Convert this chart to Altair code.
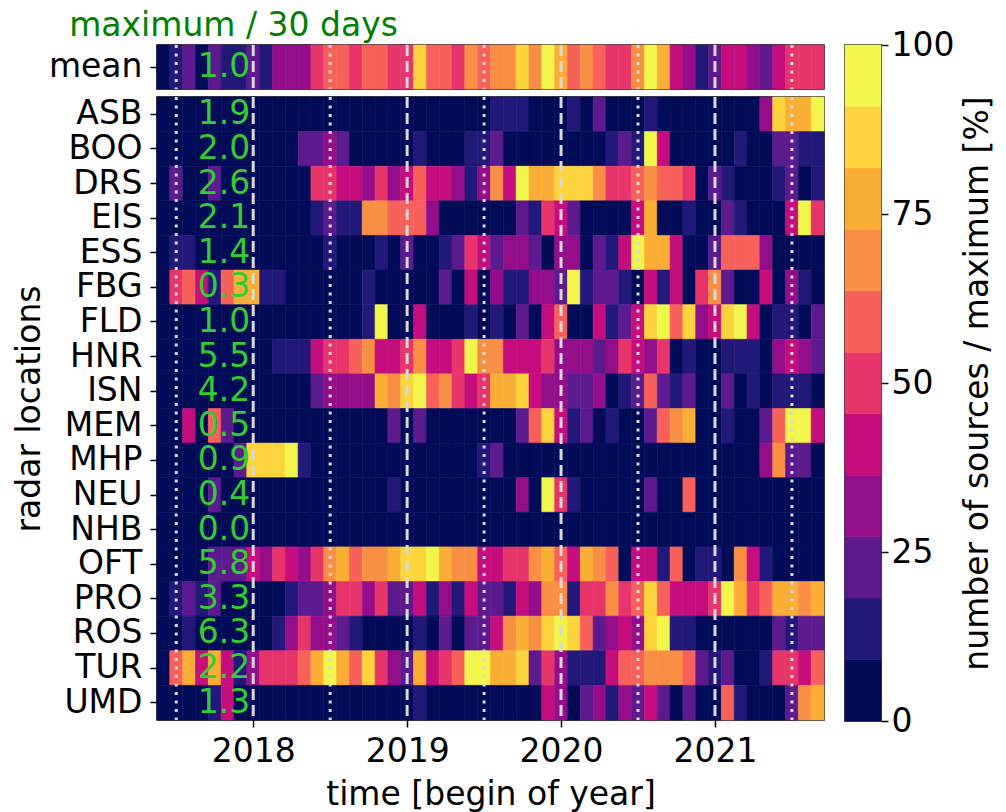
import altair as alt
import pandas as pd

# ---------------- data ----------------
radars = ["ASB", "BOO", "DRS", "EIS", "ESS", "FBG", "FLD", "HNR", "ISN",
          "MEM", "MHP", "NEU", "NHB", "OFT", "PRO", "ROS", "TUR", "UMD"]
maxima = [1.9, 2.0, 2.6, 2.1, 1.4, 0.3, 1.0, 5.5, 4.2,
          0.5, 0.9, 0.4, 0.0, 5.8, 3.3, 6.3, 2.2, 1.3]
mean_maximum = 1.0

first_month = "2017-06"
last_month = "2021-09"

# number of sources / maximum [%] per 30-day (monthly) cell
mean = [5, 14, 23, 5, 23, 14, 14, 23, 14, 32, 32, 32, 50, 59, 59, 50, 59, 59, 50, 50,
        86, 59, 59, 50, 68, 59, 68, 68, 86, 68, 95, 77, 59, 68, 59, 50, 50, 68, 95, 77,
        41, 32, 14, 23, 41, 41, 32, 23, 41, 50, 50, 50]
ASB = [5, 5, 5, 5, 5, 5, 5, 5, 5, 5, 5, 5, 5, 5, 5, 5, 5, 5, 5, 5,
       5, 5, 5, 5, 5, 5, 14, 14, 14, 5, 5, 5, 14, 5, 23, 5, 5, 5, 14, 5,
       5, 5, 5, 5, 5, 5, 5, 32, 86, 77, 77, 95]
BOO = [5, 5, 5, 5, 5, 5, 5, 5, 5, 5, 5, 23, 23, 32, 23, 5, 5, 5, 5, 5,
       14, 5, 5, 5, 14, 14, 23, 5, 5, 5, 5, 5, 5, 5, 5, 14, 23, 14, 95, 41,
       5, 5, 5, 5, 5, 14, 5, 5, 23, 23, 14, 14]
DRS = [5, 23, 5, 5, 23, 5, 5, 5, 5, 5, 5, 5, 50, 50, 41, 41, 32, 50, 32, 41,
       59, 41, 41, 32, 14, 32, 68, 41, 95, 77, 77, 86, 86, 86, 68, 50, 50, 59, 68, 59,
       59, 50, 5, 23, 14, 5, 5, 5, 14, 23, 5, 14]
EIS = [5, 5, 5, 5, 5, 5, 5, 5, 5, 5, 5, 5, 14, 23, 14, 14, 68, 68, 59, 59,
       59, 32, 5, 5, 5, 5, 5, 5, 23, 14, 50, 41, 23, 5, 5, 5, 5, 41, 77, 5,
       5, 14, 5, 5, 23, 14, 5, 5, 5, 41, 95, 50]
ESS = [5, 14, 14, 5, 5, 5, 5, 5, 5, 5, 5, 5, 5, 14, 5, 5, 5, 14, 5, 23,
       5, 5, 14, 23, 50, 41, 23, 32, 32, 23, 5, 32, 32, 5, 23, 14, 41, 95, 77, 77,
       41, 5, 5, 23, 59, 59, 59, 32, 5, 5, 5, 5]
FBG = [5, 50, 59, 41, 14, 59, 77, 77, 14, 14, 5, 5, 5, 5, 5, 5, 14, 5, 5, 5,
       5, 5, 23, 5, 41, 5, 32, 14, 14, 32, 32, 23, 95, 14, 23, 23, 14, 5, 41, 14,
       41, 5, 50, 68, 23, 5, 5, 41, 5, 32, 14, 5]
FLD = [5, 5, 5, 5, 5, 5, 5, 5, 5, 5, 5, 5, 5, 5, 5, 5, 14, 95, 5, 5,
       41, 5, 5, 5, 14, 5, 14, 5, 23, 5, 41, 59, 5, 5, 41, 14, 23, 41, 86, 95,
       59, 86, 32, 41, 86, 95, 41, 5, 14, 14, 5, 23]
HNR = [5, 5, 5, 5, 5, 5, 5, 5, 5, 14, 14, 14, 41, 50, 50, 59, 68, 41, 41, 50,
       68, 41, 41, 50, 95, 68, 68, 41, 41, 41, 50, 32, 32, 32, 23, 32, 50, 41, 32, 50,
       5, 14, 5, 5, 14, 14, 14, 5, 32, 41, 32, 23]
ISN = [5, 5, 5, 5, 5, 5, 5, 5, 5, 5, 5, 5, 23, 32, 32, 32, 32, 77, 68, 86,
       95, 59, 68, 50, 41, 50, 77, 77, 86, 41, 32, 32, 23, 23, 32, 5, 14, 23, 59, 23,
       14, 23, 5, 5, 23, 5, 14, 5, 14, 14, 14, 5]
MEM = [5, 5, 41, 5, 59, 23, 5, 5, 5, 5, 5, 5, 5, 5, 5, 5, 5, 5, 23, 5,
       23, 5, 5, 5, 5, 5, 5, 5, 23, 59, 86, 41, 14, 23, 5, 14, 5, 5, 23, 59,
       68, 77, 5, 5, 14, 5, 5, 23, 59, 95, 95, 41]
MHP = [5, 5, 5, 5, 5, 5, 23, 86, 86, 86, 95, 14, 5, 5, 5, 5, 5, 5, 5, 5,
       5, 5, 5, 5, 5, 14, 23, 5, 5, 5, 5, 5, 5, 5, 5, 5, 5, 5, 5, 5,
       5, 5, 5, 5, 5, 5, 5, 32, 68, 23, 23, 5]
NEU = [5, 5, 5, 5, 23, 5, 5, 5, 5, 5, 5, 5, 5, 5, 5, 5, 5, 5, 14, 5,
       5, 5, 5, 5, 5, 5, 5, 5, 32, 5, 95, 50, 14, 5, 5, 5, 5, 5, 23, 5,
       5, 59, 5, 5, 5, 5, 5, 5, 5, 5, 5, 5]
NHB = [5, 5, 5, 5, 5, 5, 5, 5, 5, 5, 5, 5, 5, 5, 5, 5, 5, 5, 5, 5,
       5, 5, 5, 5, 5, 5, 5, 5, 5, 5, 5, 5, 5, 5, 5, 5, 5, 5, 5, 5,
       5, 5, 5, 5, 5, 5, 5, 5, 5, 5, 5, 5]
OFT = [5, 5, 5, 5, 23, 23, 23, 41, 32, 50, 41, 32, 50, 68, 77, 59, 68, 68, 77, 86,
       86, 95, 77, 68, 68, 41, 41, 50, 50, 68, 77, 59, 41, 77, 68, 59, 5, 41, 41, 14,
       59, 5, 14, 14, 5, 68, 41, 14, 5, 5, 5, 5]
PRO = [5, 14, 23, 14, 23, 5, 5, 5, 5, 5, 14, 23, 23, 32, 50, 50, 32, 50, 23, 23,
       41, 14, 32, 14, 41, 23, 23, 14, 41, 32, 68, 68, 14, 50, 50, 68, 50, 59, 86, 59,
       41, 41, 41, 50, 95, 77, 50, 59, 77, 77, 68, 77]
ROS = [5, 5, 14, 5, 5, 5, 5, 5, 5, 14, 32, 50, 32, 32, 23, 14, 5, 5, 5, 5,
       14, 5, 23, 5, 23, 23, 41, 68, 77, 68, 86, 95, 86, 59, 23, 32, 41, 32, 86, 95,
       14, 14, 5, 5, 5, 5, 5, 5, 23, 14, 23, 23]
TUR = [5, 59, 77, 41, 77, 41, 14, 32, 50, 50, 50, 59, 77, 95, 77, 59, 86, 50, 32, 23,
       77, 41, 50, 59, 95, 95, 77, 77, 86, 23, 50, 32, 14, 14, 14, 41, 59, 59, 68, 68,
       68, 59, 23, 14, 23, 5, 5, 14, 50, 50, 41, 59]
UMD = [5, 5, 5, 5, 14, 41, 5, 5, 5, 5, 5, 5, 5, 5, 5, 5, 5, 5, 5, 5,
       14, 5, 5, 5, 5, 5, 5, 5, 5, 5, 41, 32, 5, 23, 32, 14, 32, 23, 41, 23,
       5, 23, 5, 5, 59, 14, 5, 5, 5, 23, 68, 77]

series = {"ASB": ASB, "BOO": BOO, "DRS": DRS, "EIS": EIS, "ESS": ESS, "FBG": FBG,
          "FLD": FLD, "HNR": HNR, "ISN": ISN, "MEM": MEM, "MHP": MHP, "NEU": NEU,
          "NHB": NHB, "OFT": OFT, "PRO": PRO, "ROS": ROS, "TUR": TUR, "UMD": UMD}

year_lines = [2018, 2019, 2020, 2021]
midyear_lines = [2017.5, 2018.5, 2019.5, 2020.5, 2021.5]
cbar_ticks = [0, 25, 50, 75, 100]
colors = ["#020b57", "#221879", "#5c1a8e", "#940d8a", "#c60d7d", "#e7356b",
          "#f8615a", "#f98e45", "#fbae36", "#fdd43c", "#f3f64a"]

# ---------------- tables ----------------
months = pd.period_range(first_month, last_month, freq="M")
centers = [p.year + (p.month - 1) / 12 for p in months]
half = 1 / 24

rows = []
for r in radars:
    for c, v in zip(centers, series[r]):
        rows.append({"radar": r, "x0": c - half, "x1": c + half, "value": v})
df = pd.DataFrame(rows)
mean_df = pd.DataFrame({"row": "mean", "x0": [c - half for c in centers],
                        "x1": [c + half for c in centers], "value": mean})
max_df = pd.DataFrame({"radar": radars, "max": maxima})
mean_max_df = pd.DataFrame({"row": ["mean"], "max": [mean_maximum]})
yl_df = pd.DataFrame({"x": year_lines})
ml_df = pd.DataFrame({"x": midyear_lines})

n = len(colors)
cb_df = pd.DataFrame({"lo": [100 * k / n for k in range(n)],
                      "hi": [100 * (k + 1) / n for k in range(n)]})
cb_df["mid"] = (cb_df["lo"] + cb_df["hi"]) / 2

# ---------------- styling ----------------
FONT = "DejaVu Sans"
FS = 33
GREEN_TXT = "#33cc33"
LINE_COL = "#d9d9d9"

xscale = alt.Scale(domain=[centers[0] - half, centers[-1] + half], nice=False, zero=False)
cscale = alt.Scale(type="threshold", domain=[100 * k / n for k in range(1, n)], range=colors)

ax_main = alt.Axis(values=year_lines, format="d", title="time [begin of year]",
                   labelPadding=8, titlePadding=10)
ax_y = alt.Axis(title="radar locations", labelPadding=8, titlePadding=17)
y_main = alt.Y("radar:N", sort=radars, scale=alt.Scale(paddingInner=0, paddingOuter=0), axis=ax_y)
y_mean = alt.Y("row:N", scale=alt.Scale(paddingInner=0, paddingOuter=0),
               axis=alt.Axis(title=None, labelPadding=8))


def build(data, ydef, txt_data, axis_x, height):
    heat = alt.Chart(data).mark_rect(strokeWidth=0.6).encode(
        x=alt.X("x0:Q", scale=xscale, axis=axis_x),
        x2="x1:Q",
        y=ydef,
        color=alt.Color("value:Q", scale=cscale, legend=None),
        stroke=alt.Stroke("value:Q", scale=cscale, legend=None),
    )
    dashed = alt.Chart(yl_df).mark_rule(color=LINE_COL, strokeWidth=3, strokeDash=[11, 5]).encode(
        x=alt.X("x:Q", scale=xscale, axis=axis_x))
    dotted = alt.Chart(ml_df).mark_rule(color=LINE_COL, strokeWidth=3, strokeDash=[3, 5.5]).encode(
        x=alt.X("x:Q", scale=xscale, axis=axis_x))
    txt = alt.Chart(txt_data).mark_text(color=GREEN_TXT, fontSize=FS, font=FONT).encode(
        x=alt.datum(2017.81, scale=xscale, axis=axis_x),
        y=ydef,
        text=alt.Text("max:Q", format=".1f"),
    )
    return alt.layer(heat, dashed, dotted, txt).properties(width=667, height=height)


mean_chart = build(mean_df, y_mean, mean_max_df, None, 44)
main_chart = build(df, y_main, max_df, ax_main, 623)

colorbar = alt.Chart(cb_df).mark_rect(strokeWidth=0.6).encode(
    x=alt.value(0),
    x2=alt.value("width"),
    y=alt.Y("lo:Q", scale=alt.Scale(domain=[0, 100], nice=False, zero=False),
            axis=alt.Axis(orient="right", values=cbar_ticks, title="number of sources / maximum [%]",
                          titleAngle=270, labelPadding=3, titlePadding=41)),
    y2="hi:Q",
    color=alt.Color("mid:Q", scale=cscale, legend=None),
    stroke=alt.Stroke("mid:Q", scale=cscale, legend=None),
).properties(width=36, height=676)

title = alt.TitleParams("maximum / 30 days", color="green", fontSize=FS, font=FONT,
                        fontWeight="normal", anchor="start", dx=56, offset=-15)

left = alt.vconcat(mean_chart, main_chart, spacing=2)
chart = alt.hconcat(left, colorbar, spacing=17).properties(
    title=title,
    padding={"left": 5, "top": 2, "right": 2, "bottom": 0}
).configure_view(
    stroke="black", strokeWidth=1.5
).configure_axis(
    grid=False, domain=False, labelFont=FONT, titleFont=FONT, labelFontSize=FS,
    titleFontSize=FS, labelColor="black", titleColor="black", tickColor="black",
    tickSize=7, tickWidth=1.5, titleFontWeight="normal"
)

chart.save("out.html", embed_options={"renderer": "svg", "actions": False})
